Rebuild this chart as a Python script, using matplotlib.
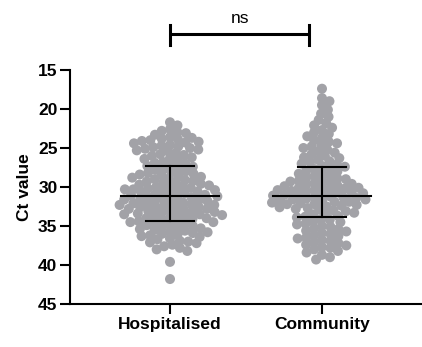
import numpy as np
import matplotlib
matplotlib.use("Agg")
import matplotlib.pyplot as plt

groups = ['Hospitalised', 'Community']

hospitalised = [21.7, 22.1,
                22.6, 22.8, 23.0, 23.1, 23.3,
                23.6, 23.7, 23.8, 23.9, 24.0, 24.1, 24.2, 24.3, 24.4,
                24.6, 24.7, 24.8, 24.9, 25.0, 25.1, 25.2, 25.3, 25.4,
                25.6, 25.8, 25.9, 26.0, 26.2, 26.3, 26.4,
                26.6, 26.8, 26.9, 27.0, 27.2, 27.3, 27.4,
                27.6, 27.7, 27.8, 28.0, 28.1, 28.2, 28.3, 28.4,
                28.5, 28.6, 28.7, 28.8, 28.9, 29.0, 29.1, 29.2, 29.3, 29.4, 29.5,
                29.6, 29.7, 29.8, 29.9, 30.0, 30.0, 30.1, 30.2, 30.3, 30.3,
                30.4, 30.5, 30.5, 30.6,
                30.7, 30.8, 30.9, 31.0, 31.0, 31.1, 31.2, 31.3,
                31.3, 31.4, 31.5, 31.6, 31.6,
                31.7, 31.8, 31.8, 31.9, 32.0, 32.1, 32.2, 32.2, 32.3,
                32.3, 32.4, 32.5, 32.6, 32.6,
                32.7, 32.8, 32.8, 32.9, 33.0, 33.1, 33.2, 33.2, 33.3,
                33.4, 33.4, 33.5, 33.5,
                33.6, 33.7, 33.8, 33.9, 34.0, 34.0, 34.1, 34.2, 34.3, 34.4,
                34.5, 34.5,
                34.6, 34.7, 34.8, 34.9, 35.0, 35.1, 35.2, 35.3, 35.4, 35.5,
                35.6, 35.7, 35.8, 35.9, 36.0, 36.1, 36.2, 36.3, 36.4,
                36.6, 36.7, 36.9, 37.0, 37.1, 37.2, 37.4,
                37.6, 37.8, 38.0, 38.2,
                39.6, 41.8]

community = [17.4, 18.6, 19.0, 19.5, 20.1, 20.6, 21.0, 21.4, 21.8, 22.1,
             22.4, 22.7, 23.0, 23.2, 23.5, 23.7, 24.0, 24.2, 24.4, 24.6,
             24.8, 25.0, 25.2, 25.4, 25.6, 25.8, 26.0, 26.2, 26.3, 26.5,
             26.7, 26.8, 27.0, 27.1, 27.3, 27.4, 27.6, 27.7, 27.9, 28.0,
             28.2, 28.3, 28.5, 28.6, 28.8, 28.9, 29.0, 29.1, 29.2, 29.3,
             29.4, 29.5, 29.6, 29.7, 29.8, 29.9,
             30.0, 30.1, 30.1, 30.2, 30.3, 30.4, 30.4, 30.5, 30.6, 30.7,
             30.7, 30.8, 30.9, 31.0, 31.0, 31.1, 31.2, 31.3, 31.3, 31.4,
             31.5, 31.6, 31.6, 31.7, 31.8, 31.9, 31.9, 32.0, 32.1, 32.2,
             32.2, 32.3, 32.4, 32.5, 32.6, 32.7, 32.8, 32.9, 33.0,
             33.1, 33.3, 33.4, 33.5, 33.7, 33.8, 33.9, 34.1, 34.2, 34.4,
             34.5, 34.7, 34.8, 35.0, 35.1, 35.3, 35.4, 35.6, 35.7, 35.9,
             36.0, 36.2, 36.3, 36.5, 36.6, 36.8, 36.9, 37.1, 37.2, 37.4,
             37.5, 37.7, 37.8, 38.0, 38.2, 38.4, 38.7, 39.0, 39.3]

# median and interquartile range
medians = [31.2, 31.1]
q1 = [27.3, 27.4]
q3 = [34.3, 33.9]

plt.rcParams['font.family'] = ['Liberation Sans', 'DejaVu Sans']

fig = plt.figure(figsize=(4.22, 3.47), dpi=100)
ax = fig.add_axes([70 / 422, 1 - 304 / 347, 352 / 422, 234 / 347])
ax.set_xlim(-0.658, 1.658)
ax.set_ylim(45, 15)


def swarm(vals, dx_min, dy_min, sx, sy):
    # greedy beeswarm in pixel units, elliptical spacing so dots may overlap
    ys = np.asarray(vals) * sy / dy_min
    order = np.argsort(ys)
    placed = []
    offs = np.zeros(len(ys))
    for i in order:
        y = ys[i]
        near = [(x, yy) for x, yy in placed if abs(yy - y) < 1]
        cands = [0.0]
        for x, yy in near:
            dx = np.sqrt(1 - (yy - y) ** 2)
            cands += [x + dx, x - dx]
        cands.sort(key=abs)
        for c in cands:
            if all((c - x) ** 2 + (y - yy) ** 2 >= 1 - 1e-6 for x, yy in near):
                break
        placed.append((c, y))
        offs[i] = c
    return offs * dx_min / sx


p0 = ax.transData.transform((0, 15))
p1 = ax.transData.transform((1, 45))
sx = abs(p1[0] - p0[0])
sy = abs(p1[1] - p0[1]) / 30.0

for i, vals in enumerate([hospitalised, community]):
    xo = swarm(vals, 8.5, 6.5, sx, sy)
    ax.scatter(i + xo, vals, s=52, color='#a2a2a7', edgecolors='none', zorder=2)
    ax.plot([i - 0.32, i + 0.32], [medians[i], medians[i]], color='black', lw=1.5, zorder=3)
    ax.plot([i - 0.16, i + 0.16], [q1[i], q1[i]], color='black', lw=1.5, zorder=3)
    ax.plot([i - 0.16, i + 0.16], [q3[i], q3[i]], color='black', lw=1.5, zorder=3)
    ax.plot([i, i], [q1[i], q3[i]], color='black', lw=1.5, zorder=3)

ax.spines['top'].set_visible(False)
ax.spines['right'].set_visible(False)
ax.spines['left'].set_linewidth(1.5)
ax.spines['bottom'].set_linewidth(1.5)
ax.set_yticks([15, 20, 25, 30, 35, 40, 45])
ax.set_xticks([0, 1])
ax.set_xticklabels(groups, fontweight='bold', fontsize=12.5)
for lab in ax.get_yticklabels():
    lab.set_fontweight('bold')
    lab.set_fontsize(12.5)
ax.tick_params(width=1.5, length=7, pad=2)
ax.set_ylabel('Ct value', fontweight='bold', fontsize=12.5, labelpad=4)

# significance bracket
ax.plot([0, 0.914], [10.4, 10.4], color='black', lw=2.2, clip_on=False, solid_capstyle='butt')
ax.plot([0, 0], [9.2, 11.8], color='black', lw=2.2, clip_on=False)
ax.plot([0.914, 0.914], [9.2, 11.8], color='black', lw=2.2, clip_on=False)
ax.text(0.46, 8.4, 'ns', ha='center', va='center', fontsize=12.5)

plt.savefig('out.png', dpi=100)
